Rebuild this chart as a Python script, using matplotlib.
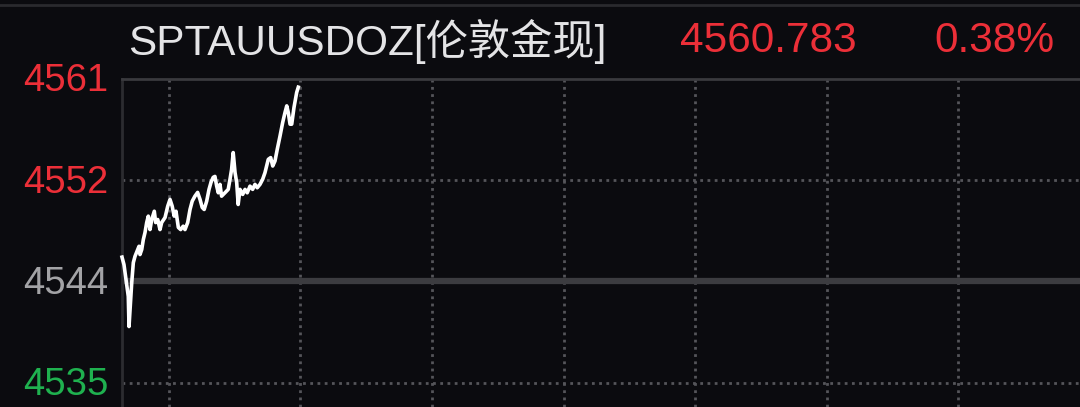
#!/usr/bin/env python
"""London spot gold intraday minute chart, dark terminal style."""

import matplotlib
matplotlib.use('Agg')
import matplotlib.pyplot as plt

# Data (minutes since session open, price)
minutes = [0, 2.7, 8.6, 9.6, 13.3, 15.5, 17.8, 21.5, 23.3, 24.6, 27.0, 29.2,
           31.5, 33.8, 36.0, 38.3, 40.7, 44.2, 46.1, 48.9, 52.0, 54.3, 58.9,
           62.6, 65.7, 68.7, 71.4, 73.9, 77.1, 80.3, 83.8, 86.2, 89.9, 93.1,
           96.1, 99.8, 103.5, 106.8, 109.8, 112.5, 115.9, 119.1, 121.8, 124.8,
           127.2, 129.6, 131.8, 134.1, 136.3, 140.9, 145.4, 147.8, 150.0,
           152.2, 154.7, 157.0, 159.0, 161.5, 165.2, 168.4, 171.4, 175.2,
           178.8, 182.0, 185.1, 188.9, 192.5, 195.7, 200.2, 203.5, 206.3,
           209.4, 212.5, 216.3, 219.9, 223.1, 225.5, 227.6, 230.0, 232.3,
           235.4, 239.1, 241.3]
prices = [4545.6, 4544.96, 4542.24, 4539.66, 4543.41, 4545.13, 4545.67,
          4546.25, 4546.53, 4545.82, 4546.25, 4547.11, 4547.71, 4548.56,
          4549.11, 4547.96, 4548.82, 4549.53, 4548.56, 4548.82, 4547.96,
          4548.56, 4548.99, 4549.96, 4550.54, 4549.96, 4549.11, 4549.53,
          4548.14, 4547.96, 4548.25, 4547.96, 4548.56, 4549.68, 4550.39,
          4550.82, 4551.14, 4550.54, 4549.85, 4549.68, 4550.39, 4551.40,
          4552.00, 4552.43, 4552.51, 4551.68, 4551.11, 4551.83, 4550.82,
          4551.11, 4551.40, 4552.26, 4553.11, 4554.55, 4552.85, 4551.97,
          4550.11, 4551.40, 4550.97, 4551.40, 4551.11, 4551.68, 4551.40,
          4551.83, 4551.54, 4551.83, 4552.26, 4552.83, 4553.97, 4554.12,
          4553.40, 4553.83, 4554.83, 4555.97, 4557.12, 4557.98, 4558.55,
          4557.98, 4556.98, 4556.98, 4558.41, 4559.70, 4560.15]

prev_close = 4543.52
tick_values = [4560.85, 4552.18, 4543.52, 4534.85]
tick_labels = ['4561', '4552', '4544', '4535']
tick_colors = ['#ec2f38', '#ec2f38', '#a3a3a6', '#1fb14f']
vgrid_minutes = [64.3, 244.3, 424.3, 604.3, 784.3, 964.3, 1144.3]

title = 'SPTAUUSDOZ[伦敦金现]'
last_price = '4560.783'
change_pct = '0.38%'

BG = '#0b0b0f'
FONTS = ['Liberation Sans', 'Noto Sans CJK SC', 'DejaVu Sans']
plt.rcParams['font.family'] = FONTS

fig = plt.figure(figsize=(10.8, 4.07), dpi=100, facecolor=BG)

# chart area: x from 122px to the right edge, top border at y=79px
ax = fig.add_axes([122 / 1080, 0, 1 - 122 / 1080, 1 - 79 / 407])
ax.set_facecolor(BG)
ax.set_xlim(0, (1080 - 122) / 0.7306)
ax.set_ylim(4532.77, 4560.85)

for spine in ['right', 'bottom']:
    ax.spines[spine].set_visible(False)
ax.spines['top'].set_color('#3a3a3e')
ax.spines['top'].set_linewidth(2)
ax.spines['left'].set_color('#2c2c30')
ax.spines['left'].set_linewidth(2)
ax.set_xticks([])
ax.set_yticks([])

# dotted grid
for m in vgrid_minutes:
    ax.axvline(m, color='#55555a', lw=2, ls=(0, (1, 1.6)), zorder=1)
for v in tick_values[1::2]:
    ax.axhline(v, color='#55555a', lw=2, ls=(0, (1, 1.6)), zorder=1)
# previous close
ax.axhline(prev_close, color='#3c3c40', lw=4.5, zorder=2)

ax.plot(minutes, prices, color='white', lw=2.6, zorder=3,
        solid_joinstyle='round', clip_on=False)

# y labels on the left
for v, lab, col in zip(tick_values, tick_labels, tick_colors):
    ax.text(-14 / 0.7306, v - 0.2, lab, color=col, fontsize=27.5,
            ha='right', va='center', clip_on=False)

# header
fig.add_artist(plt.Line2D([0, 1], [1 - 5 / 407] * 2, color='#2a2a2e',
                          lw=2, transform=fig.transFigure))
fig.text(128 / 1080, 1 - 41 / 407, title, color='#e4e4e6', fontsize=30.4,
         ha='left', va='center')
fig.text(680 / 1080, 1 - 41 / 407, last_price, color='#ec2f38',
         fontsize=30.5, ha='left', va='center')
fig.text(1055 / 1080, 1 - 41 / 407, change_pct, color='#ec2f38',
         fontsize=30.5, ha='right', va='center')

fig.savefig('out.png', dpi=100, facecolor=BG)
